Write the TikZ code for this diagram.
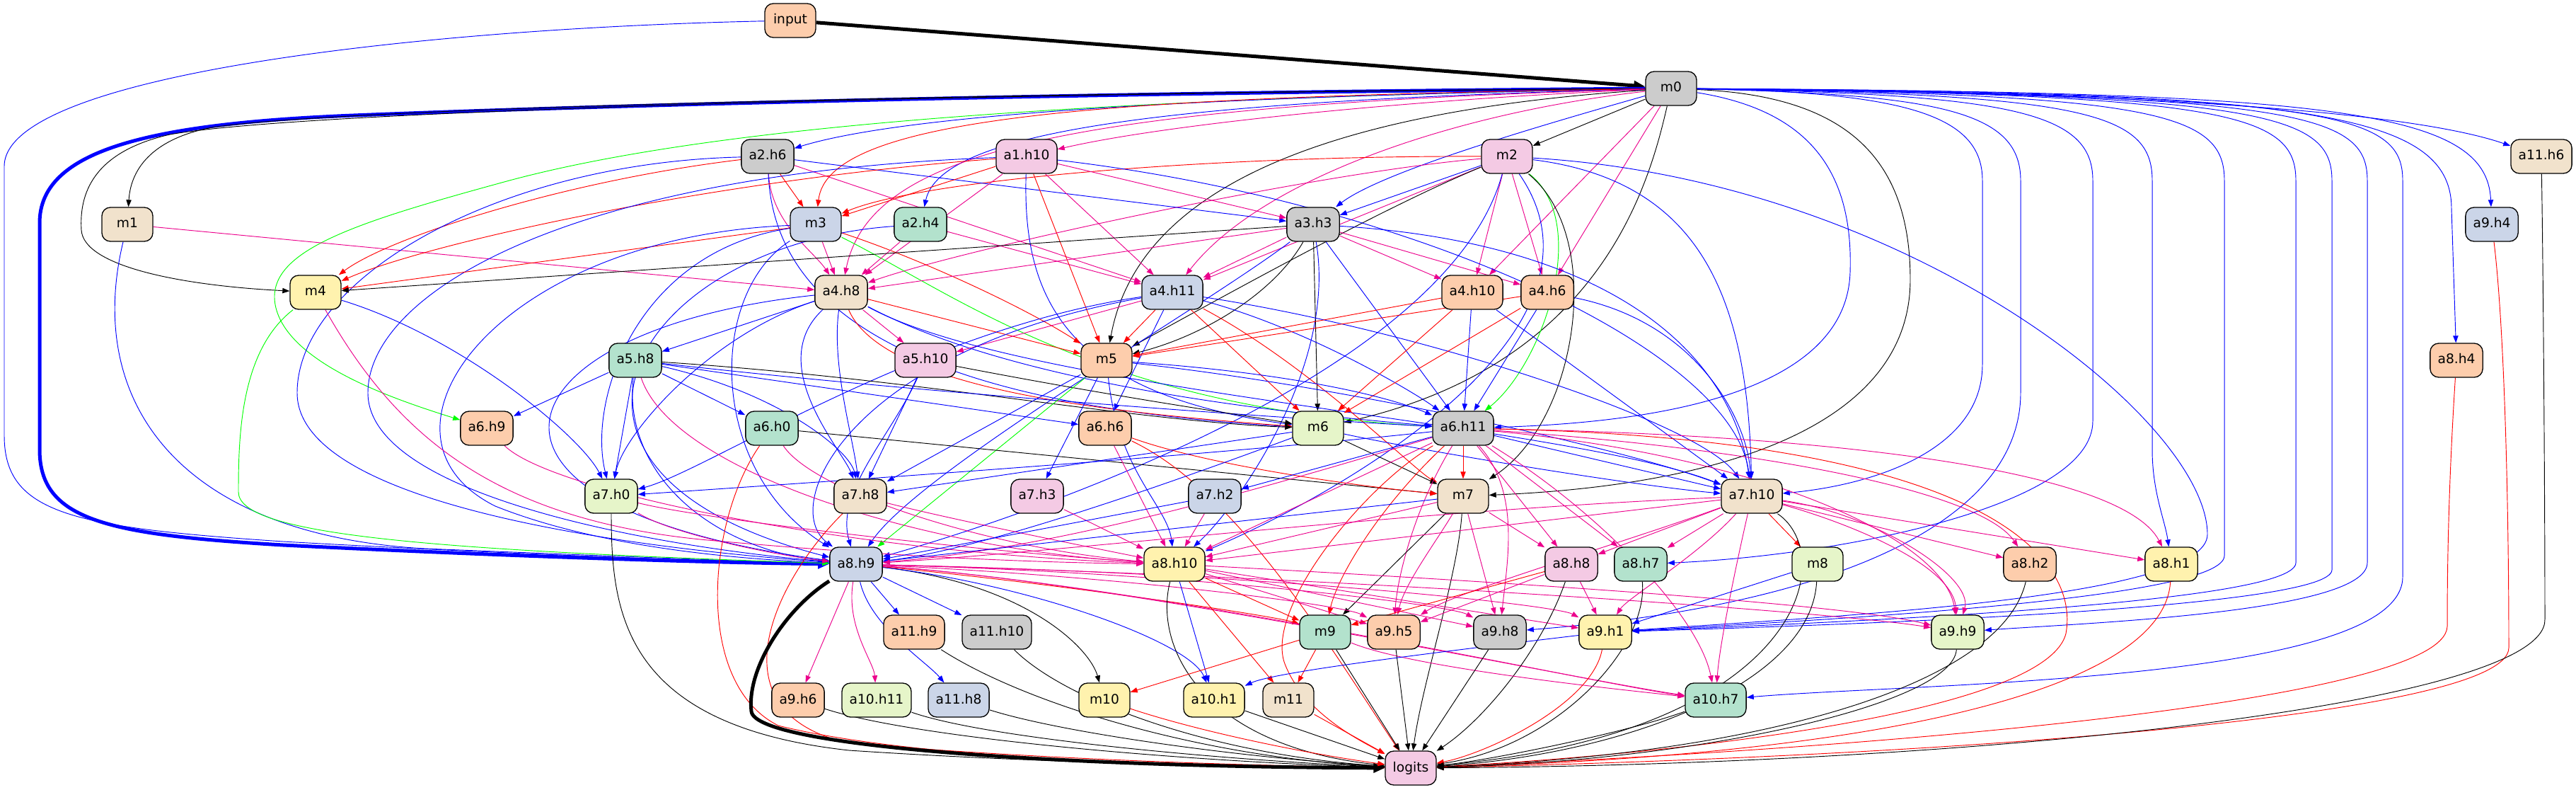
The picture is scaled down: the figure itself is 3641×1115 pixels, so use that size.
\documentclass[tikz,border=0pt]{standalone}
\usepackage{fontspec}
\setmainfont{DejaVu Sans}
\usetikzlibrary{arrows.meta}
\definecolor{pMint}{HTML}{B3E2CD}
\definecolor{pPeach}{HTML}{FDCDAC}
\definecolor{pBlue}{HTML}{CBD5E8}
\definecolor{pPink}{HTML}{F4CAE4}
\definecolor{pGreen}{HTML}{E6F5C9}
\definecolor{pYellow}{HTML}{FFF2AE}
\definecolor{pBeige}{HTML}{F1E2CC}
\definecolor{pGray}{HTML}{CCCCCC}
\pgfdeclarelayer{edgelayer}
\pgfsetlayers{edgelayer,main}
\tikzset{
  nd/.style={draw=black, line width=1pt, rounded corners=9pt, minimum width=54pt, minimum height=36pt,
    inner xsep=8pt, inner ysep=0pt, font=\fontsize{14}{16}\selectfont, text height=10.5pt, text depth=3pt},
  E/.style={->, line width=0.7pt},
  EB/.style={E, draw=blue},
  ER/.style={E, draw=red},
  EM/.style={E, draw=magenta},
  EG/.style={E, draw=green},
  EK/.style={E, draw=black},
  thickedge/.style={line width=3.75pt, -{Triangle[length=12pt,width=10pt]}},
}
\begin{document}
\begin{tikzpicture}[x=0.75pt, y=0.75pt, >={Triangle[length=7.5pt,width=5.5pt]}]
\useasboundingbox (0,0) rectangle (3641,1115);
% nodes
\node[nd, fill=pPeach] (input) at (1117,1086) {input};
\node[nd, fill=pGray] (m0) at (2362,990) {m0};
\node[nd, fill=pGray] (a2h6) at (1085,894) {a2.h6};
\node[nd, fill=pPink] (a1h10) at (1451,894) {a1.h10};
\node[nd, fill=pPink] (m2) at (2130,894) {m2};
\node[nd, fill=pBeige] (a11h6) at (3592,894) {a11.h6};
\node[nd, fill=pBeige] (m1) at (180,798) {m1};
\node[nd, fill=pBlue] (m3) at (1153,798) {m3};
\node[nd, fill=pMint] (a2h4) at (1301,798) {a2.h4};
\node[nd, fill=pGray] (a3h3) at (1856,798) {a3.h3};
\node[nd, fill=pBlue] (a9h4) at (3522,798) {a9.h4};
\node[nd, fill=pYellow] (m4) at (446,702) {m4};
\node[nd, fill=pBeige] (a4h8) at (1189,702) {a4.h8};
\node[nd, fill=pBlue] (a4h11) at (1657,702) {a4.h11};
\node[nd, fill=pPeach] (a4h10) at (2081,702) {a4.h10};
\node[nd, fill=pPeach] (a4h6) at (2187,702) {a4.h6};
\node[nd, fill=pMint] (a5h8) at (898,606) {a5.h8};
\node[nd, fill=pPink] (a5h10) at (1308,606) {a5.h10};
\node[nd, fill=pPeach] (m5) at (1564,606) {m5};
\node[nd, fill=pPeach] (a8h4) at (3472,606) {a8.h4};
\node[nd, fill=pPeach] (a6h9) at (688,510) {a6.h9};
\node[nd, fill=pMint] (a6h0) at (1091,510) {a6.h0};
\node[nd, fill=pPeach] (a6h6) at (1562,510) {a6.h6};
\node[nd, fill=pGreen] (m6) at (1863,510) {m6};
\node[nd, fill=pGray] (a6h11) at (2068,510) {a6.h11};
\node[nd, fill=pGreen] (a7h0) at (864,414) {a7.h0};
\node[nd, fill=pBeige] (a7h8) at (1216,414) {a7.h8};
\node[nd, fill=pPink] (a7h3) at (1466,414) {a7.h3};
\node[nd, fill=pBlue] (a7h2) at (1717,414) {a7.h2};
\node[nd, fill=pBeige] (m7) at (2068,414) {m7};
\node[nd, fill=pBeige] (a7h10) at (2476,414) {a7.h10};
\node[nd, fill=pBlue] (a8h9) at (1210,318) {a8.h9};
\node[nd, fill=pYellow] (a8h10) at (1660,318) {a8.h10};
\node[nd, fill=pPink] (a8h8) at (2221,318) {a8.h8};
\node[nd, fill=pMint] (a8h7) at (2319,318) {a8.h7};
\node[nd, fill=pGreen] (m8) at (2569,318) {m8};
\node[nd, fill=pPeach] (a8h2) at (2869,318) {a8.h2};
\node[nd, fill=pYellow] (a8h1) at (3069,318) {a8.h1};
\node[nd, fill=pPeach] (a11h9) at (1292,222) {a11.h9};
\node[nd, fill=pGray] (a11h10) at (1409,222) {a11.h10};
\node[nd, fill=pMint] (m9) at (1873,222) {m9};
\node[nd, fill=pPeach] (a9h5) at (1970,222) {a9.h5};
\node[nd, fill=pGray] (a9h8) at (2120,222) {a9.h8};
\node[nd, fill=pYellow] (a9h1) at (2269,222) {a9.h1};
\node[nd, fill=pGreen] (a9h9) at (2767,222) {a9.h9};
\node[nd, fill=pPeach] (a9h6) at (1128,126) {a9.h6};
\node[nd, fill=pGreen] (a10h11) at (1239,126) {a10.h11};
\node[nd, fill=pBlue] (a11h8) at (1355,126) {a11.h8};
\node[nd, fill=pYellow] (m10) at (1561,126) {m10};
\node[nd, fill=pYellow] (a10h1) at (1716,126) {a10.h1};
\node[nd, fill=pBeige] (m11) at (1821,126) {m11};
\node[nd, fill=pMint] (a10h7) at (2425,126) {a10.h7};
\node[nd, fill=pPink] (logits) at (1994,30) {logits};
\begin{pgfonlayer}{edgelayer}
\fill[white] (0,0) rectangle (3641,1115);
% input
\draw[EK, thickedge] (input) -- (m0);
\draw[EB] (input) .. controls (600,1075) and (6,1010) .. (6,880) -- (6,500) .. controls (6,390) and (100,370) .. (400,350) .. controls (700,333) and (1000,322) .. (a8h9);
% m0 left bundle
\draw[EB, thickedge] (m0) .. controls (1600,985) and (900,968) .. (500,952) .. controls (200,940) and (56,900) .. (56,800) -- (56,480) .. controls (56,380) and (150,360) .. (400,345) .. controls (700,330) and (1000,320) .. (a8h9);
\draw[EK] (m0) .. controls (1500,985) and (500,965) .. (300,935) .. controls (220,920) and (185,880) .. (m1);
\draw[EK] (m0) .. controls (1500,985) and (450,962) .. (240,925) .. controls (130,900) and (112,840) .. (115,790) .. controls (118,740) and (250,712) .. (m4);
\draw[EG] (m0) .. controls (1500,975) and (1000,935) .. (720,860) .. controls (500,800) and (370,760) .. (390,680) .. controls (410,600) and (560,550) .. (a6h9);
\draw[EK] (m0) -- (m2);
\draw[EB] (m0) .. controls (1800,980) and (1300,960) .. (a2h6);
\draw[EM] (m0) .. controls (2000,975) and (1650,940) .. (a1h10);
\draw[ER] (m0) .. controls (1550,978) and (1170,950) .. (m3);
\draw[EB] (m0) .. controls (1650,972) and (1330,930) .. (a2h4);
\draw[EB] (m0) .. controls (2150,930) and (1950,870) .. (a3h3);
\draw[EM] (m0) .. controls (1500,965) and (1230,900) .. (a4h8);
\draw[EM] (m0) .. controls (2050,955) and (1780,860) .. (a4h11);
\draw[EK] (m0) .. controls (1900,960) and (1610,860) .. (m5);
\draw[EM] (m0) -- (a4h10);
\draw[EM] (m0) -- (a4h6);
\draw[EK] (m0) .. controls (2330,850) and (2260,600) .. (m6);
\draw[EK] (m0) .. controls (2600,980) and (2700,900) .. (2700,720) .. controls (2700,520) and (2450,430) .. (m7);
\draw[EB] (m0) .. controls (2550,960) and (2620,880) .. (2615,730) .. controls (2610,580) and (2400,520) .. (a6h11);
% m0 right fan
\draw[EB] (m0) .. controls (2700,985) and (2802,950) .. (2802,860) -- (2802,600) .. controls (2802,480) and (2650,430) .. (a7h10);
\draw[EB] (m0) .. controls (2750,982) and (2856,955) .. (2856,860) -- (2856,560) .. controls (2856,380) and (2600,260) .. (a9h8);
\draw[EB] (m0) .. controls (2850,982) and (2958,955) .. (2958,860) -- (2958,520) .. controls (2958,400) and (2600,330) .. (a8h7);
\draw[EB] (m0) .. controls (2950,982) and (3042,955) .. (3042,860) -- (3042,480) .. controls (3042,420) and (3060,380) .. (a8h1);
\draw[EB] (m0) .. controls (3050,982) and (3144,955) .. (3144,860) -- (3144,330) .. controls (3144,270) and (2600,240) .. (a9h1);
\draw[EB] (m0) .. controls (3150,982) and (3245,955) .. (3245,860) -- (3245,320) .. controls (3245,262) and (2600,236) .. (a9h1);
\draw[EB] (m0) .. controls (3200,982) and (3296,955) .. (3296,860) -- (3296,310) .. controls (3296,255) and (2600,232) .. (a9h1);
\draw[EB] (m0) .. controls (3250,982) and (3346,955) .. (3346,860) -- (3346,320) .. controls (3346,250) and (2950,235) .. (a9h9);
\draw[EB] (m0) .. controls (3300,982) and (3396,955) .. (3396,860) -- (3396,300) .. controls (3396,150) and (2700,150) .. (a10h7);
\draw[EB] (m0) .. controls (3250,985) and (3465,960) .. (3465,820) -- (a8h4);
\draw[EB] (m0) .. controls (3300,985) and (3515,960) .. (a9h4);
\draw[EB] (m0) .. controls (3000,985) and (3400,960) .. (a11h6);
% m1
\draw[EM] (m1) -- (a4h8);
\draw[EB] (m1) .. controls (120,550) and (250,360) .. (600,340) .. controls (900,328) and (1050,322) .. (a8h9);
% m2
\draw[ER] (m2) .. controls (1700,895) and (1300,860) .. (m3);
\draw[EB] (m2) -- (a3h3);
\draw[EM] (m2) .. controls (1850,870) and (1350,760) .. (a4h8);
\draw[EM] (m2) -- (a4h11);
\draw[EM] (m2) -- (a4h10);
\draw[EM] (m2) -- (a4h6);
\draw[EG] (m2) .. controls (2250,800) and (2180,600) .. (a6h11);
\draw[EK] (m2) .. controls (1950,820) and (1700,680) .. (m5);
\draw[EK] (m2) .. controls (2270,780) and (2230,520) .. (m7);
\draw[EB] (m2) .. controls (2400,860) and (2470,700) .. (a7h10);
\draw[EB] (m2) .. controls (2700,860) and (3120,520) .. (3120,360) .. controls (3120,270) and (2600,245) .. (a9h1);
\draw[EB] (m2) .. controls (2050,600) and (1500,400) .. (a8h9);
\draw[EB] (m2) .. controls (2300,650) and (1900,420) .. (a8h10);
% a2h6
\draw[ER] (a2h6) -- (m3);
\draw[ER] (a2h6) .. controls (800,860) and (550,780) .. (m4);
\draw[EB] (a2h6) -- (a3h3);
\draw[EM] (a2h6) .. controls (1090,800) and (1150,760) .. (a4h8);
\draw[EM] (a2h6) -- (a4h11);
\draw[EB] (a2h6) .. controls (700,885) and (420,720) .. (420,560) .. controls (420,400) and (900,340) .. (a8h9);
\draw[EB] (a2h6) .. controls (1095,650) and (1350,540) .. (m6);
% a1h10
\draw[ER] (a1h10) -- (m3);
\draw[ER] (a1h10) .. controls (1000,860) and (600,770) .. (m4);
\draw[EM] (a1h10) -- (a3h3);
\draw[EM] (a1h10) -- (a4h8);
\draw[EM] (a1h10) -- (a4h11);
\draw[ER] (a1h10) -- (m5);
\draw[EB] (a1h10) .. controls (800,870) and (520,700) .. (520,560) .. controls (520,420) and (900,345) .. (a8h9);
\draw[EB] (a1h10) .. controls (1445,700) and (1500,560) .. (m6);
\draw[EB] (a1h10) .. controls (2000,830) and (2450,620) .. (a7h10);
% m3
\draw[ER] (m3) -- (m4);
\draw[EM] (m3) -- (a4h8);
\draw[ER] (m3) .. controls (1300,750) and (1450,680) .. (m5);
\draw[EB] (m3) .. controls (700,780) and (500,500) .. (700,400) .. controls (850,340) and (1050,325) .. (a8h9);
\draw[EB] (m3) .. controls (900,760) and (830,550) .. (a7h0);
\draw[EG] (m3) .. controls (1350,700) and (1550,540) .. (a6h11);
\draw[EB] (m3) .. controls (1000,700) and (1000,450) .. (a8h9);
% a2h4
\draw[EM] (a2h4) -- (a4h8);
\draw[EM] (a2h4) -- (a4h11);
\draw[EB] (a2h4) .. controls (900,770) and (700,450) .. (a8h9);
% a3h3
\draw[EK] (a3h3) -- (m4);
\draw[EM] (a3h3) -- (a4h8);
\draw[EM] (a3h3) -- (a4h11);
\draw[EM] (a3h3) -- (a4h10);
\draw[EM] (a3h3) -- (a4h6);
\draw[EK] (a3h3) .. controls (1800,700) and (1700,640) .. (m5);
\draw[EB] (a3h3) -- (a6h11);
\draw[EB] (a3h3) .. controls (2300,770) and (2450,600) .. (a7h10);
\draw[EB] (a3h3) .. controls (1700,680) and (1300,450) .. (a8h9);
\draw[EB] (a3h3) .. controls (1890,600) and (1750,400) .. (a8h10);
\draw[EK] (a3h3) -- (m6);
% m4
\draw[EB] (m4) .. controls (650,640) and (820,500) .. (a7h0);
\draw[EG] (m4) .. controls (340,620) and (337,500) .. (337,420) .. controls (337,360) and (600,338) .. (a8h9);
\draw[EM] (m4) .. controls (560,500) and (700,380) .. (1000,352) .. controls (1300,325) and (1500,320) .. (a8h10);
% a4h8
\draw[EB] (a4h8) -- (a5h8);
\draw[EM] (a4h8) -- (a5h10);
\draw[ER] (a4h8) -- (m5);
\draw[EB] (a4h8) .. controls (1000,640) and (880,500) .. (a7h0);
\draw[EB] (a4h8) .. controls (1175,600) and (1205,500) .. (a7h8);
\draw[EB] (a4h8) .. controls (1080,600) and (1190,480) .. (a7h8);
\draw[EB] (a4h8) .. controls (1400,590) and (1700,540) .. (a6h11);
\draw[ER] (a4h8) .. controls (1250,560) and (1600,530) .. (m6);
\draw[EB] (a4h8) .. controls (1450,560) and (2200,520) .. (a7h10);
\draw[EB] (a4h8) .. controls (700,650) and (600,400) .. (a8h9);
% a4h11
\draw[EM] (a4h11) -- (a5h10);
\draw[ER] (a4h11) -- (m5);
\draw[EB] (a4h11) -- (a6h6);
\draw[ER] (a4h11) -- (m6);
\draw[EB] (a4h11) .. controls (1850,650) and (2000,560) .. (a6h11);
\draw[ER] (a4h11) .. controls (1850,600) and (2000,450) .. (m7);
\draw[EB] (a4h11) .. controls (1300,650) and (1000,450) .. (a7h0);
\draw[EB] (a4h11) .. controls (1200,620) and (1100,400) .. (a8h9);
\draw[EB] (a4h11) .. controls (2000,650) and (2400,520) .. (a7h10);
% a4h10, a4h6
\draw[ER] (a4h10) -- (m5);
\draw[ER] (a4h10) -- (m6);
\draw[EB] (a4h10) -- (a6h11);
\draw[EB] (a4h10) -- (a7h10);
\draw[ER] (a4h6) -- (m5);
\draw[ER] (a4h6) -- (m6);
\draw[EB] (a4h6) -- (a6h11);
\draw[EB] (a4h6) .. controls (2400,660) and (2470,520) .. (a7h10);
% a5h8
\draw[EB] (a5h8) -- (a6h9);
\draw[EB] (a5h8) -- (a6h0);
\draw[EB] (a5h8) -- (a6h6);
\draw[EB] (a5h8) -- (a7h0);
\draw[EK] (a5h8) .. controls (1300,580) and (1600,520) .. (m6);
\draw[EB] (a5h8) .. controls (1100,560) and (1200,480) .. (a7h8);
\draw[EB] (a5h8) .. controls (1300,560) and (1800,525) .. (a6h11);
\draw[EM] (a5h8) .. controls (950,450) and (1300,340) .. (a8h10);
\draw[EB] (a5h8) .. controls (880,450) and (1000,340) .. (a8h9);
% a5h10
\draw[EK] (a5h10) .. controls (1600,550) and (1750,530) .. (m6);
\draw[EB] (a5h10) -- (a7h8);
\draw[EB] (a5h10) .. controls (1260,500) and (1180,420) .. (a8h9);
% m5
\draw[EB] (m5) .. controls (1800,590) and (1950,560) .. (a6h11);
\draw[EB] (m5) .. controls (1900,570) and (2300,480) .. (a7h10);
\draw[EB] (m5) -- (a7h3);
\draw[EB] (m5) -- (a7h8);
\draw[EG] (m5) -- (a8h9);
\draw[EB] (m5) .. controls (1580,450) and (1650,400) .. (a8h10);
% far right to logits
\draw[ER] (a8h4) .. controls (3460,420) and (3459,300) .. (3459,230) .. controls (3455,120) and (2600,55) .. (logits);
\draw[ER] (a9h4) .. controls (3540,650) and (3546,400) .. (3546,200) .. controls (3546,100) and (2700,45) .. (logits);
\draw[EK] (a11h6) .. controls (3595,700) and (3597,400) .. (3597,240) .. controls (3600,120) and (2800,35) .. (logits);
% a6 row
\draw[EM] (a6h9) .. controls (780,420) and (1200,335) .. (a8h10);
\draw[EK] (a6h0) -- (m7);
\draw[EM] (a6h0) .. controls (1150,420) and (1400,340) .. (a8h10);
\draw[ER] (a6h0) .. controls (1000,380) and (980,150) .. (1100,90) .. controls (1300,40) and (1700,32) .. (logits);
\draw[ER] (a6h6) .. controls (1700,460) and (1900,430) .. (m7);
\draw[EM] (a6h6) -- (a8h10);
\draw[ER] (a6h6) .. controls (1750,420) and (1880,200) .. (logits);
\draw[EK] (m6) -- (m7);
\draw[EB] (m6) -- (a7h8);
\draw[EB] (m6) .. controls (2000,480) and (2300,430) .. (a7h10);
\draw[EB] (m6) .. controls (1700,450) and (1400,340) .. (a8h9);
\draw[ER] (a6h11) -- (m7);
\draw[EB] (a6h11) -- (a7h2);
\draw[EB] (a6h11) .. controls (1700,470) and (1100,430) .. (a7h0);
\draw[EB] (a6h11) -- (a7h10);
\draw[EM] (a6h11) .. controls (1800,430) and (1500,340) .. (a8h9);
\draw[EM] (a6h11) -- (a8h10);
\draw[EM] (a6h11) -- (a8h8);
\draw[EM] (a6h11) -- (a8h7);
\draw[EM] (a6h11) .. controls (2500,480) and (2800,420) .. (a8h2);
\draw[EM] (a6h11) .. controls (2600,500) and (3000,450) .. (a8h1);
\draw[EM] (a6h11) .. controls (2000,400) and (1975,300) .. (a9h5);
\draw[EM] (a6h11) .. controls (2150,420) and (2130,320) .. (a9h8);
\draw[EM] (a6h11) .. controls (2500,470) and (2750,350) .. (a9h9);
\draw[EM] (a6h11) .. controls (2250,400) and (2400,250) .. (a10h7);
\draw[ER] (a6h11) .. controls (1930,430) and (1790,260) .. (1815,180) .. controls (1840,110) and (1920,70) .. (logits);
\draw[ER] (a6h11) .. controls (2800,495) and (2940,330) .. (2920,220) .. controls (2890,100) and (2300,45) .. (logits);
\draw[ER] (a6h11) .. controls (1950,400) and (1890,300) .. (m9);
% a7 row
\draw[EM] (a7h0) .. controls (1000,380) and (1400,335) .. (a8h10);
\draw[EK] (a7h0) .. controls (864,250) and (880,90) .. (1200,55) .. controls (1500,35) and (1800,32) .. (logits);
\draw[EM] (a7h0) .. controls (950,360) and (1100,330) .. (a8h9);
\draw[EM] (a7h8) .. controls (1350,380) and (1550,340) .. (a8h10);
\draw[ER] (a7h8) .. controls (1100,300) and (1000,110) .. (1200,65) .. controls (1500,40) and (1800,33) .. (logits);
\draw[EM] (a7h3) -- (a8h10);
\draw[EB] (a7h2) -- (a8h9);
\draw[EM] (a7h2) -- (a8h10);
\draw[EB] (m7) -- (a8h9);
\draw[EM] (m7) -- (a8h10);
\draw[EM] (m7) -- (a8h8);
\draw[EK] (m7) -- (m9);
\draw[EM] (m7) .. controls (2030,350) and (1985,290) .. (a9h5);
\draw[EM] (m7) -- (a9h8);
\draw[EK] (m7) .. controls (2060,300) and (2010,150) .. (logits);
\draw[ER] (a7h10) -- (m8);
\draw[EM] (a7h10) -- (a8h10);
\draw[EM] (a7h10) -- (a8h8);
\draw[EM] (a7h10) -- (a8h7);
\draw[EM] (a7h10) -- (a8h2);
\draw[EM] (a7h10) -- (a8h1);
\draw[EM] (a7h10) .. controls (2300,350) and (2060,280) .. (a9h5);
\draw[EM] (a7h10) .. controls (2600,380) and (2760,320) .. (a9h9);
\draw[EM] (a7h10) .. controls (2650,390) and (2790,300) .. (a9h9);
\draw[EM] (a7h10) .. controls (2450,300) and (2430,200) .. (a10h7);
\draw[EK] (a7h10) .. controls (2600,330) and (2550,80) .. (logits);
\draw[EM] (a7h10) .. controls (2000,395) and (1500,335) .. (a8h9);
\draw[EM] (a7h10) .. controls (2400,330) and (2300,270) .. (a9h1);
% a8 row
\draw[EK, thickedge] (a8h9) .. controls (1110,255) and (1055,170) .. (1062,110) .. controls (1068,60) and (1500,32) .. (logits);
\draw[EB] (a8h9) -- (a11h9);
\draw[EB] (a8h9) -- (a11h10);
\draw[EM] (a8h9) -- (a9h6);
\draw[EM] (a8h9) .. controls (1195,230) and (1235,180) .. (a10h11);
\draw[EB] (a8h9) .. controls (1230,230) and (1310,180) .. (a11h8);
\draw[EK] (a8h9) .. controls (1450,290) and (1540,200) .. (m10);
\draw[EB] (a8h9) .. controls (1450,290) and (1680,210) .. (a10h1);
\draw[ER] (a8h9) .. controls (1500,290) and (1800,245) .. (m9);
\draw[EM] (a8h9) .. controls (1600,300) and (1900,260) .. (a9h5);
\draw[EM] (a8h9) .. controls (1700,305) and (2050,260) .. (a9h8);
\draw[EM] (a8h9) .. controls (1800,305) and (2200,260) .. (a9h1);
\draw[EM] (a8h9) .. controls (1900,300) and (2600,250) .. (a9h9);
\draw[EM] (a8h9) .. controls (1600,290) and (2200,160) .. (a10h7);
\draw[EM] (a8h9) .. controls (1650,285) and (2250,150) .. (a10h7);
\draw[EK] (a8h10) .. controls (1630,200) and (1700,60) .. (logits);
\draw[EB] (a8h10) -- (a10h1);
\draw[ER] (a8h10) -- (m11);
\draw[ER] (a8h10) -- (m9);
\draw[EM] (a8h10) -- (a9h5);
\draw[EM] (a8h10) -- (a9h8);
\draw[EM] (a8h10) -- (a9h1);
\draw[EM] (a8h10) .. controls (2000,300) and (2600,265) .. (a9h9);
\draw[ER] (a8h8) -- (m9);
\draw[EM] (a8h8) -- (a9h5);
\draw[EM] (a8h8) -- (a9h1);
\draw[EK] (a8h8) .. controls (2180,200) and (2100,100) .. (logits);
\draw[EK] (a8h7) .. controls (2330,200) and (2200,60) .. (logits);
\draw[EB] (m8) -- (a9h1);
\draw[EK] (m8) .. controls (2560,150) and (2300,50) .. (logits);
\draw[EK] (a8h2) .. controls (2830,150) and (2500,50) .. (logits);
\draw[ER] (a8h1) .. controls (3060,150) and (2700,50) .. (logits);
% a9 / a11 row
\draw[EK] (a11h9) .. controls (1450,120) and (1700,45) .. (logits);
\draw[EK] (a11h10) .. controls (1500,130) and (1700,50) .. (logits);
\draw[ER] (m9) -- (m10);
\draw[ER] (m9) -- (m11);
\draw[EK] (m9) -- (logits);
\draw[EM] (m9) .. controls (2000,170) and (2300,140) .. (a10h7);
\draw[EK] (a9h5) -- (logits);
\draw[EK] (a9h8) -- (logits);
\draw[ER] (a9h1) .. controls (2250,120) and (2100,50) .. (logits);
\draw[EB] (a9h1) .. controls (2000,190) and (1800,165) .. (a10h1);
\draw[EK] (a9h9) .. controls (2760,120) and (2400,40) .. (logits);
% a10 row
\draw[EK] (a9h6) .. controls (1300,70) and (1700,38) .. (logits);
\draw[EK] (a10h11) .. controls (1400,70) and (1750,40) .. (logits);
\draw[EK] (a11h8) .. controls (1500,80) and (1750,45) .. (logits);
\draw[ER] (m10) .. controls (1700,80) and (1850,50) .. (logits);
\draw[EK] (a10h1) -- (logits);
\draw[ER] (m11) -- (logits);
\draw[EK] (a10h7) .. controls (2300,80) and (2100,40) .. (logits);
\end{pgfonlayer}
\end{tikzpicture}
\end{document}
